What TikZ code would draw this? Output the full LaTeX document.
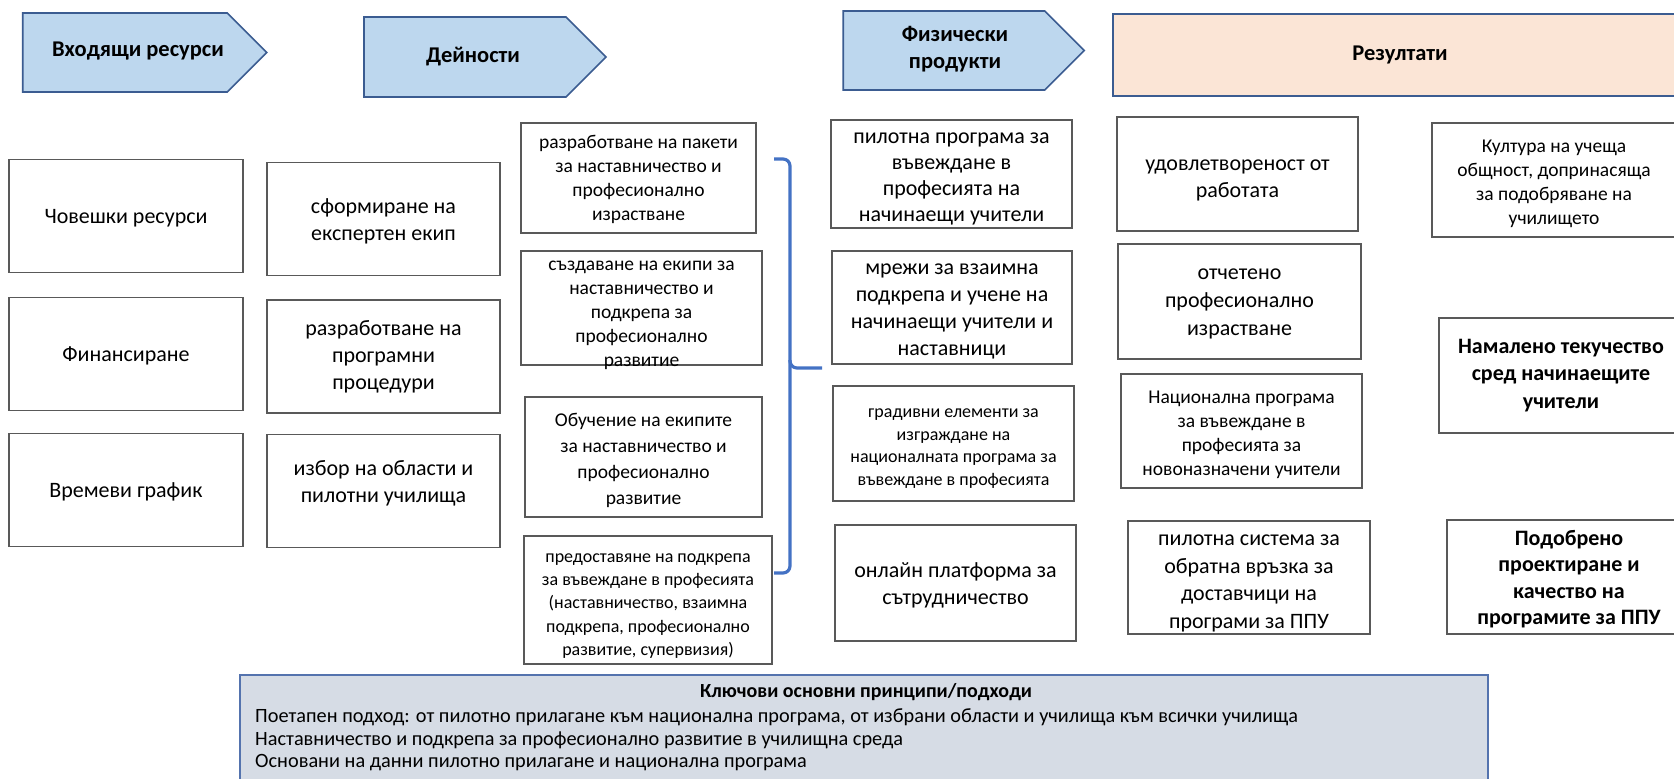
\documentclass[tikz,border=0pt]{standalone}
\usepackage{fontspec}
\setmainfont{Carlito}
\usetikzlibrary{shapes.symbols}
\definecolor{hdrfill}{HTML}{BDD7EE}
\definecolor{hdrline}{HTML}{3B5C91}
\definecolor{resfill}{HTML}{FBE5D6}
\definecolor{boxline}{HTML}{595959}
\definecolor{bracecol}{HTML}{4472C4}
\definecolor{keyfill}{HTML}{D6DCE5}
\definecolor{keyline}{HTML}{5473AE}

\begin{document}
\begin{tikzpicture}[x=1pt, y=-1pt,
    box/.style={draw=boxline, line width=1.8pt, inner sep=0pt,
        minimum width=240, minimum height=113},
    txt/.style={align=center, inner sep=0pt, font=\fontsize{22}{27}\selectfont},
    small/.style={font=\fontsize{19.5}{24}\selectfont},
    tiny/.style={font=\fontsize{18}{22.8}\selectfont},
    strong/.style={font=\bfseries\fontsize{22}{27.5}\selectfont},
    hdr/.style={signal, signal to=east, signal pointer angle=90, draw=hdrline,
        fill=hdrfill, line width=1.6pt, inner sep=0pt},
    hdrtext/.style={align=center, font=\bfseries\fontsize{22.5}{27}\selectfont},
    keytext/.style={anchor=west, inner sep=0pt, font=\fontsize{20.3}{23}\selectfont},
    brace/.style={draw=bracecol, line width=3.2pt, rounded corners=7pt}]
    \useasboundingbox (0,0) rectangle (1674,779);

    % Headers
    \node[hdr, minimum width=244, minimum height=79] (hIn) at (125,52.5) {};
    \node[hdr, minimum width=242, minimum height=80] (hAct) at (465,57) {};
    \node[hdr, minimum width=241, minimum height=79] (hOut) at (944,50.5) {};
    \node[draw=hdrline, fill=resfill, line width=1.6pt, minimum width=574, minimum height=82]
        (hRes) at (1400,55) {};
    \node[hdrtext] (hInT) at (138,51) {Входящи ресурси};
    \node[hdrtext] (hActT) at (473,57) {Дейности};
    \node[hdrtext] (hOutT) at (955,49) {Физически\\продукти};
    \node[hdrtext] (hResT) at (1400,55) {Резултати};

    % Inputs
    \foreach \i/\y/\t in {1/216/Човешки ресурси, 2/354/Финансиране, 3/490/Времеви график} {
        \node[box, minimum width=234] (in\i) at (126,\y) {};
        \node[txt] (tin\i) at ([yshift=-2]in\i.center) {\t};
    }

    % Activities
    \foreach \i/\y/\dy/\t in {1/219/-2/{сформиране на\\експертен екип},
                              2/356.5/0/{разработване на\\програмни\\процедури},
                              3/491/8/{избор на области и\\пилотни училища}} {
        \node[box, minimum width=233] (ac\i) at (383.5,\y) {};
        \node[txt] (tac\i) at ([yshift=\dy]ac\i.center) {\t};
    }

    \node[box, minimum width=235, minimum height=110] (ac4) at (638.5,178) {};
    \node[txt, small] (tac4) at ([yshift=-1]ac4.center)
        {разработване на пакети\\за наставничество и\\професионално\\израстване};
    \node[box, minimum width=241, minimum height=114] (ac5) at (641.5,308) {};
    \node[txt, small] (tac5) at ([yshift=-7]ac5.center)
        {създаване на екипи за\\наставничество и\\подкрепа за\\професионално\\развитие};
    \node[box, minimum width=237, minimum height=120] (ac6) at (643.5,457) {};
    \node[txt, font=\fontsize{19.5}{26}\selectfont] (tac6) at ([yshift=-3]ac6.center)
        {Обучение на екипите\\за наставничество и\\професионално\\развитие};
    \node[box, minimum width=248, minimum height=128] (ac7) at (648,600) {};
    \node[txt, font=\fontsize{18}{23.2}\selectfont] (tac7) at ([yshift=-6]ac7.center)
        {предоставяне на подкрепа\\за въвеждане в професията\\(наставничество, взаимна\\подкрепа, професионално\\развитие, супервизия)};

    % Brace
    \coordinate (bTop) at (774,159);
    \coordinate (bMid) at (822,368);
    \coordinate (bBot) at (774,573);
    \draw[brace] (bTop) -- (790,159) -- (790,368) -- (bMid);
    \draw[brace] (790,360) -- (790,573) -- (bBot);

    % Outputs
    \node[box, minimum width=241, minimum height=108] (pr1) at (951.5,174) {};
    \node[txt, font=\fontsize{22}{26.3}\selectfont] (tpr1) at ([yshift=-5]pr1.center)
        {пилотна програма за\\въвеждане в\\професията на\\начинаещи учители};
    \node[box, minimum width=240, minimum height=113] (pr2) at (952,307.5) {};
    \node[txt] (tpr2) at ([yshift=-4]pr2.center)
        {мрежи за взаимна\\подкрепа и учене на\\начинаещи учители и\\наставници};
    \node[box, minimum width=241, minimum height=115] (pr3) at (953.5,443.5) {};
    \node[txt, tiny] (tpr3) at ([yshift=-5]pr3.center)
        {градивни елементи за\\изграждане на\\националната програма за\\въвеждане в професията};
    \node[box, minimum width=241, minimum height=116] (pr4) at (955.5,583) {};
    \node[txt] (tpr4) at ([yshift=-2]pr4.center) {онлайн платформа за\\сътрудничество};

    % Outcomes
    \node[box, minimum width=241, minimum height=114] (re1) at (1237.5,174) {};
    \node[txt] (tre1) at ([yshift=-6]re1.center) {удовлетвореност от\\работата};
    \node[box, minimum width=243, minimum height=115] (re2) at (1239.5,301.5) {};
    \node[txt, font=\fontsize{22}{28}\selectfont] (tre2) at ([yshift=-2]re2.center)
        {отчетено\\професионално\\израстване};
    \node[box, minimum width=241, minimum height=114] (re3) at (1241.5,431) {};
    \node[txt, font=\fontsize{19.5}{24.2}\selectfont] (tre3) at ([yshift=-4]re3.center)
        {Национална програма\\за въвеждане в\\професията за\\новоназначени учители};
    \node[box, minimum width=242, minimum height=113] (re4) at (1249,577.5) {};
    \node[txt, font=\fontsize{22}{27.8}\selectfont] (tre4) at ([yshift=-6]re4.center)
        {пилотна система за\\обратна връзка за\\доставчици на\\програми за ППУ};

    \node[box, minimum width=244, minimum height=114] (re5) at (1554,180) {};
    \node[txt, small] (tre5) at ([yshift=-4]re5.center)
        {Култура на учеща\\общност, допринасяща\\за подобряване на\\училището};
    \node[box, minimum width=244, minimum height=115] (re6) at (1561,375.5) {};
    \node[txt, strong] (tre6) at (re6.center)
        {Намалено текучество\\сред начинаещите\\учители};
    \node[box, minimum width=244, minimum height=114] (re7) at (1569,577) {};
    \node[txt, strong, font=\bfseries\fontsize{22}{26.5}\selectfont] (tre7) at ([yshift=-2]re7.center)
        {Подобрено\\проектиране и\\качество на\\програмите за ППУ};

    % Key principles
    \node[draw=keyline, fill=keyfill, line width=1.6pt, minimum width=1248, minimum height=115,
        anchor=north west] (key) at (239,674) {};
    \node[font=\bfseries\fontsize{20}{23}\selectfont] (keyT) at (866,692) {Ключови основни принципи/подходи};
    \foreach \i/\y/\t in {1/717/{Поетапен подход: от пилотно прилагане към национална програма, от избрани области и училища към всички училища},
                          2/740/{Наставничество и подкрепа за професионално развитие в училищна среда},
                          3/763/{Основани на данни пилотно прилагане и национална програма}}
        \node[keytext] (key\i) at (255,\y) {\t};
\end{tikzpicture}
\end{document}
